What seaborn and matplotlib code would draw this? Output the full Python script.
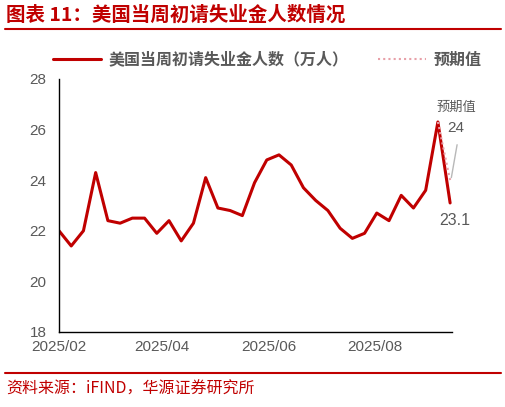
import numpy as np
import pandas as pd
import matplotlib
matplotlib.use('Agg')
import matplotlib.pyplot as plt
import matplotlib.dates as mdates
import seaborn as sns

# 数据（万人）
week_dates = pd.date_range('2025-02-01', periods=33, freq='7D')
claims = [22.0, 21.4, 22.0, 24.3, 22.4, 22.3, 22.5, 22.5, 21.9, 22.4, 21.6, 22.3,
          24.1, 22.9, 22.8, 22.6, 23.9, 24.8, 25.0, 24.6, 23.7, 23.2, 22.8, 22.1,
          21.7, 21.9, 22.7, 22.4, 23.4, 22.9, 23.6, 26.3, 23.1]
expect_dates = week_dates[-2:]
expect_vals = [26.3, 24.0]
yticks = [18, 20, 22, 24, 26, 28]
xtick_dates = ['2025-02-01', '2025-04-01', '2025-06-01', '2025-08-01']
xtick_labels = ['2025/02', '2025/04', '2025/06', '2025/08']

sns.set_style('white')
plt.rcParams['font.family'] = ['Noto Sans CJK SC', 'DejaVu Sans']

red = '#c00000'
gray = '#595959'
num_font = ['Liberation Sans', 'DejaVu Sans']

fig = plt.figure(figsize=(5.06, 4.07), dpi=100)
ax = fig.add_axes([0.1166, 0.1843, 0.7764, 0.6217])

df = pd.DataFrame({'date': week_dates, 'value': claims})
df_exp = pd.DataFrame({'date': expect_dates, 'value': expect_vals})
sns.lineplot(data=df, x='date', y='value', ax=ax, color=red, lw=2.2,
             label='美国当周初请失业金人数（万人）')
sns.lineplot(data=df_exp, x='date', y='value', ax=ax, color='#e8a0a8', lw=1.5,
             ls=(0, (1, 1.5)), label='预期值')

ax.set_ylim(18, 28)
ax.set_xlim(pd.Timestamp('2025-02-01'), pd.Timestamp('2025-09-14'))
ax.set_yticks(yticks)
ax.set_xticks(pd.to_datetime(xtick_dates))
ax.set_xticklabels(xtick_labels)
ax.set_xlabel('')
ax.set_ylabel('')
for s in ['top', 'right']:
    ax.spines[s].set_visible(False)
for s in ['left', 'bottom']:
    ax.spines[s].set_color('black')
    ax.spines[s].set_linewidth(1.0)
ax.tick_params(axis='y', direction='out', length=5, width=1, color='black',
               labelsize=11, labelcolor=gray, pad=4)
ax.tick_params(axis='x', direction='in', length=5, width=1, color='black',
               labelsize=11, labelcolor=gray, pad=6)
for lab in ax.get_xticklabels() + ax.get_yticklabels():
    lab.set_family(num_font)

leg = ax.legend(loc='lower center', bbox_to_anchor=(0.53, 1.0), ncol=2, frameon=False,
                fontsize=11.5, handlelength=3, handletextpad=0.5, columnspacing=1.8,
                borderaxespad=0.3)
for t in leg.get_texts():
    t.set_color(gray)
    t.set_fontweight('bold')

# 标注
x_last = mdates.date2num(expect_dates[-1])
ax.plot([x_last + 0.7, x_last + 4.0], [24.1, 25.4], color='#b8b8b8', lw=1, clip_on=False)
ax.text(x_last + 3.5, 26.6, '预期值', ha='center', va='bottom', fontsize=9.5, color=gray)
ax.text(x_last + 3.5, 26.05, '24', ha='center', va='center', fontsize=11, color=gray,
        family=num_font)
ax.text(x_last + 2.5, 22.4, '23.1', ha='center', va='center', fontsize=11.5, color=gray,
        family=num_font)

# 标题与来源
fig.text(0.012, 0.962, '图表 11：美国当周初请失业金人数情况', fontsize=14, color=red,
         fontweight='bold', ha='left', va='center')
fig.add_artist(plt.Line2D([0.01, 0.99], [0.928, 0.928], color=red, lw=1.5))
fig.add_artist(plt.Line2D([0.01, 0.99], [0.083, 0.083], color=red, lw=1.5))
fig.text(0.012, 0.045, '资料来源：iFIND，华源证券研究所', fontsize=11.5, color=red,
         ha='left', va='center')

fig.savefig('out.png', dpi=100)
